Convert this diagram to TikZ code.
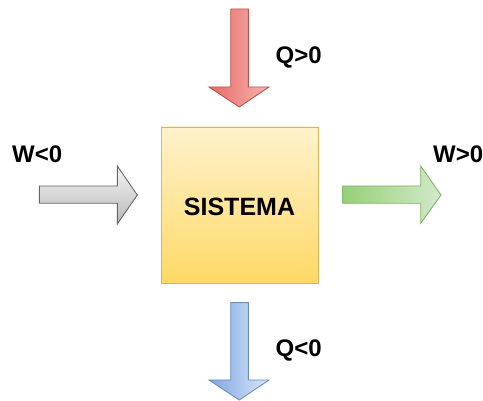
\documentclass[tikz,border=0pt]{standalone}
\usepackage{fontspec}
\setmainfont{Liberation Sans}
\definecolor{redfillA}{HTML}{EA6B66}
\definecolor{redfillB}{HTML}{F5B3B0}
\definecolor{redline}{HTML}{B85450}
\definecolor{bluefillA}{HTML}{DAE8FC}
\definecolor{bluefillB}{HTML}{7EA6E0}
\definecolor{blueline}{HTML}{6C8EBF}
\definecolor{grayfillA}{HTML}{F5F5F5}
\definecolor{grayfillB}{HTML}{B8B8B8}
\definecolor{grayline}{HTML}{666666}
\definecolor{greenfillA}{HTML}{97D077}
\definecolor{greenfillB}{HTML}{D2E9CB}
\definecolor{greenline}{HTML}{82B366}
\definecolor{yelfillA}{HTML}{FFF2CC}
\definecolor{yelfillB}{HTML}{FFD966}
\definecolor{yelline}{HTML}{D6B656}
\tikzset{
  blockarrow/.style={line width=0.9pt, line join=miter},
  label/.style={font=\bfseries\fontsize{24}{28}\selectfont, inner sep=0pt},
}
\begin{document}
\begin{tikzpicture}[x=1pt,y=-1pt]
\useasboundingbox (0,0) rectangle (483,401);

% system box
\node[draw=yelline, line width=0.9pt, top color=yelfillA, bottom color=yelfillB,
      minimum width=157pt, minimum height=156pt, inner sep=0pt] (sys) at (239.5,205) {};
\node[font=\bfseries\fontsize{25}{30}\selectfont, inner sep=0pt, anchor=base] (sysname) at (239.5,216) {SISTEMA};

% heat in (top, red)
\draw[blockarrow, draw=redline, left color=redfillA, right color=redfillB]
  (230.7,9) -- (248.3,9) -- (248.3,87) -- (269,87) -- (239.3,107) -- (209,87) -- (230.7,87) -- cycle;
% heat out (bottom, blue)
\draw[blockarrow, draw=blueline, shading=axis, shading angle=160,
      left color=bluefillB, right color=bluefillA]
  (230.7,302.7) -- (248.3,302.7) -- (248.3,380) -- (269,380) -- (239.3,400) -- (209,380) -- (230.7,380) -- cycle;
% work in (left, gray)
\draw[blockarrow, draw=grayline, top color=grayfillA, bottom color=grayfillB]
  (39.3,186) -- (117.3,186) -- (117.3,166) -- (137.3,195) -- (117.3,224) -- (117.3,203.3) -- (39.3,203.3) -- cycle;
% work out (right, green)
\draw[blockarrow, draw=greenline, left color=greenfillA, right color=greenfillB]
  (342.7,186) -- (420.7,186) -- (420.7,166) -- (441,195) -- (420.7,223.3) -- (420.7,203.3) -- (342.7,203.3) -- cycle;

% labels
\node[label, anchor=base west] (qin) at (275.5,63.5) {Q>0};
\node[label, anchor=base west] (qout) at (275.5,356.5) {Q<0};
\node[label, anchor=base west] (win) at (12,163) {W<0};
\node[label, anchor=base west] (wout) at (433,163) {W>0};
\end{tikzpicture}
\end{document}
